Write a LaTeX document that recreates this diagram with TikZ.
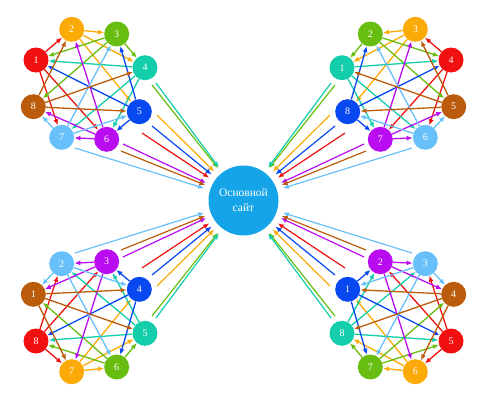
\documentclass[tikz,border=0pt]{standalone}
\usepackage{fontspec}
\setmainfont{Liberation Serif}
\usetikzlibrary{arrows.meta,backgrounds}
\definecolor{cR}{RGB}{240,16,16}
\definecolor{cO}{RGB}{252,170,8}
\definecolor{cG}{RGB}{104,190,16}
\definecolor{cT}{RGB}{20,205,170}
\definecolor{cB}{RGB}{8,72,240}
\definecolor{cP}{RGB}{186,12,240}
\definecolor{cL}{RGB}{104,192,250}
\definecolor{cW}{RGB}{186,92,12}
\definecolor{cHub}{RGB}{22,164,232}
\tikzset{
  dot/.style={circle, minimum size=25pt, inner sep=0pt, text=white, font=\fontsize{10}{10}\selectfont},
  link/.style={line width=1.3pt, -{Latex[length=6pt,width=5pt]}},
  hubnode/.style={circle, fill=cHub, minimum size=70pt, inner sep=0pt, text=white, align=center, font=\fontsize{11.5}{15}\selectfont},
  feed/.style={link, line width=1.2pt, shorten >=6pt},
}
\newcommand\drawcluster[4]{%
\begin{scope}[shift={(243.5,200.5)},xscale=#2,yscale=#3]
  \foreach \k/\px/\py/\col in {1/-207.5/-140.5/cR, 2/-171.8/-171.2/cO, 3/-126.8/-166.5/cG, 4/-98.5/-132.8/cT, 5/-104.2/-88.8/cB, 6/-136.8/-61.2/cP, 7/-181.8/-63.2/cL, 8/-210.2/-93.8/cW}{
    \pgfmathtruncatemacro\lab{#4}
    \node[dot, fill=\col] (#1\k) at (\px,\py) {\lab};
  }
  \foreach \k/\px/\py in {1/-101.5/-67.5, 2/-86.5/-85.5, 3/-91.5/-115.5, 4/-87.5/-117.5, 5/-91.5/-74.5, 6/-120.5/-56.5, 7/-168.5/-52.5, 8/-122.5/-49.5}{
    \coordinate (#1s\k) at (\px,\py);
  }
  \begin{scope}[on background layer]
    \foreach \a/\b/\col in {1/2/cR, 1/7/cR, 1/6/cR, 2/3/cO, 2/4/cO, 2/5/cO, 3/4/cG, 3/1/cG, 3/8/cG, 4/1/cT, 4/7/cT, 4/6/cT, 5/1/cB, 5/3/cB, 5/6/cB, 6/2/cP, 6/8/cP, 6/7/cP, 7/3/cL, 7/8/cL, 7/5/cL, 8/2/cW, 8/4/cW, 8/5/cW}{
      \draw[link,\col] (#1\a) -- (#1\b);
    }
  \end{scope}
  \foreach \k/\col in {1/cR, 2/cO, 3/cG, 4/cT, 5/cB, 6/cP, 7/cL, 8/cW}{
    \draw[feed,\col] (#1s\k) -- (hub);
  }
\end{scope}}
\begin{document}
\begin{tikzpicture}[x=1pt,y=-1pt]
  \useasboundingbox (0,0) rectangle (484,400);
  \node[hubnode] (hub) at (243.5,200.5) {Основной\\сайт};
  \drawcluster{TL}{1}{1}{\k}
  \drawcluster{TR}{-1}{1}{mod(12-\k,8)+1}
  \drawcluster{BL}{1}{-1}{9-\k}
  \drawcluster{BR}{-1}{-1}{mod(\k+3,8)+1}
\end{tikzpicture}
\end{document}
